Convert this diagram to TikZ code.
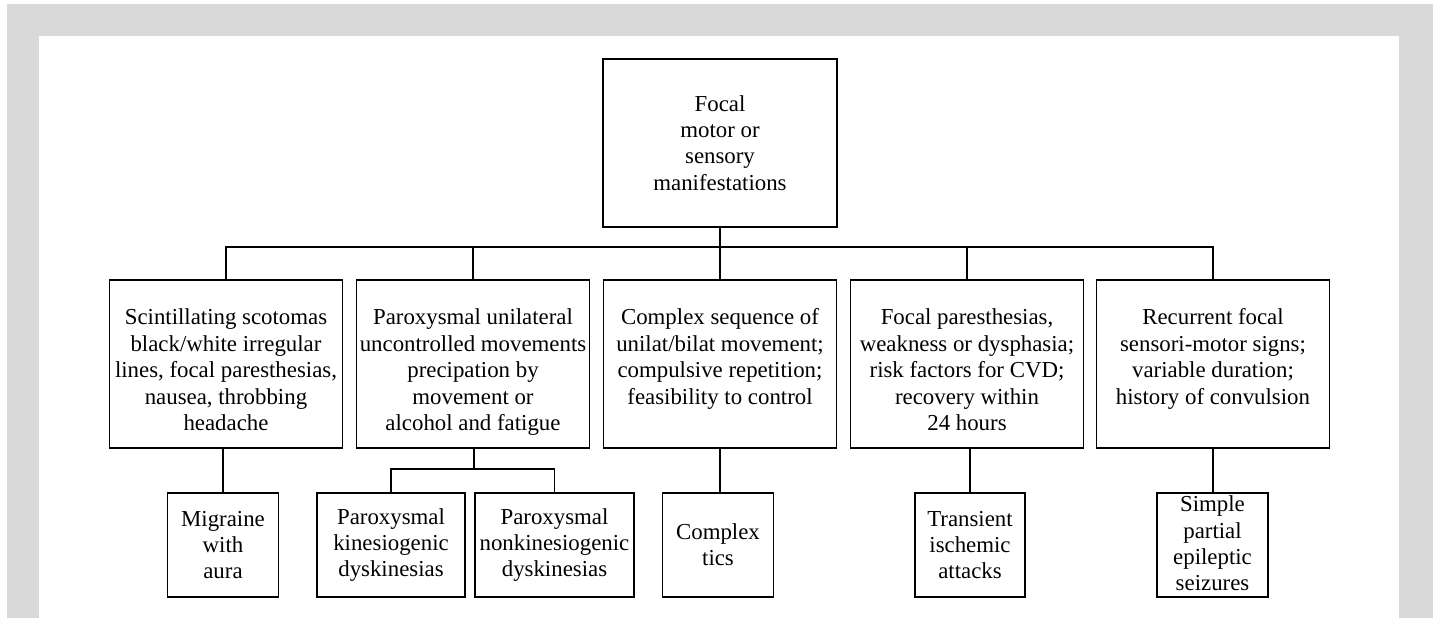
\documentclass[tikz,border=0pt]{standalone}
\usepackage{fontspec}
\setmainfont{Liberation Serif}
\definecolor{frame}{HTML}{D9D9D9}
\usetikzlibrary{positioning}

\tikzset{
  box/.style={draw, line width=0.7pt, align=center, inner xsep=1pt, inner ysep=0pt,
    font=\fontsize{13}{15}\selectfont},
  topbox/.style={box, minimum width=4.68cm, minimum height=3.36cm},
  midbox/.style={box, minimum width=4.66cm, text height=85.6pt, text depth=10pt},
  shortbox/.style={box, minimum width=4.66cm, text height=70.6pt, text depth=25pt},
  leafbox/.style={box, minimum height=2.08cm},
  link/.style={line width=0.7pt},
}

\begin{document}
\begin{tikzpicture}[x=0.02cm, y=-0.02cm]
  \useasboundingbox (0,0) rectangle (1433,618);
  \fill[frame] (7,4) rectangle (1433,618);
  \fill[white] (39,36) rectangle (1399,618);

  % root
  \node[topbox] (focal) at (720,143) {Focal\\motor or\\sensory\\manifestations};

  % second row
  \node[midbox] (scint) at (226,364) {Scintillating scotomas\\black/white irregular\\lines, focal paresthesias,\\nausea, throbbing\\headache};
  \node[midbox] (parox) at (473,364) {Paroxysmal unilateral\\uncontrolled movements\\precipation by\\movement or\\alcohol and fatigue};
  \node[shortbox] (complex) at (720,364) {Complex sequence of\\unilat/bilat movement;\\compulsive repetition;\\feasibility to control};
  \node[midbox] (focpar) at (967,364) {Focal paresthesias,\\weakness or dysphasia;\\risk factors for CVD;\\recovery within\\24 hours};
  \node[shortbox] (recur) at (1213,364) {Recurrent focal\\sensori-motor signs;\\variable duration;\\history of convulsion};

  % diagnoses
  \node[leafbox, minimum width=2.22cm] (migraine) at (223,545) {Migraine\\with\\aura};
  \node[leafbox, minimum width=2.96cm] (pkd) at (391,545) {Paroxysmal\\kinesiogenic\\dyskinesias};
  \node[leafbox, minimum width=3.18cm] (pnkd) at (554.5,545) {Paroxysmal\\nonkinesiogenic\\dyskinesias};
  \node[leafbox, minimum width=2.22cm] (tics) at (718,545) {Complex\\tics};
  \node[leafbox, minimum width=2.2cm] (tia) at (970,545) {Transient\\ischemic\\attacks};
  \node[leafbox, minimum width=2.22cm, text height=55.7pt, text depth=3.4pt] (sps) at (1212.5,545) {Simple\\partial\\epileptic\\seizures};

  \coordinate (bus) at (720,247);
  \coordinate (fork) at (474,469);

  \draw[link] (focal.south) -- (complex.north);
  \draw[link] (scint.north) |- (bus) -| (recur.north);
  \draw[link] (parox.north) -- (parox.north |- bus);
  \draw[link] (focpar.north) -- (focpar.north |- bus);

  \draw[link] (scint.south -| migraine.north) -- (migraine.north);
  \draw[link] (parox.south -| fork) -- (fork);
  \draw[link] (pkd.north) |- (fork) -| (pnkd.north);
  \draw[link] (complex.south) -- (complex.south |- tics.north);
  \draw[link] (tia.north |- focpar.south) -- (tia.north);
  \draw[link] (recur.south) -- (recur.south |- sps.north);
\end{tikzpicture}
\end{document}
